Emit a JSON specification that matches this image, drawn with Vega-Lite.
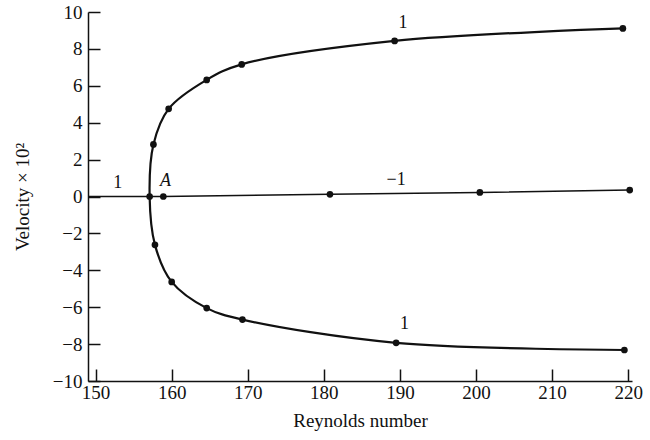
{
  "$schema": "https://vega.github.io/schema/vega-lite/v6.json",
  "autosize": "none",
  "width": 544,
  "height": 369,
  "padding": {"left": 88, "top": 12, "right": 18, "bottom": 59},
  "background": "white",
  "config": {
    "view": {"stroke": null},
    "font": "Liberation Serif",
    "axis": {
      "grid": false,
      "domainColor": "#111",
      "domainWidth": 1.5,
      "tickColor": "#111",
      "tickWidth": 1.5,
      "tickSize": -12,
      "labelFont": "Liberation Serif",
      "labelFontSize": 19,
      "labelColor": "#111",
      "titleFont": "Liberation Serif",
      "titleFontSize": 19,
      "titleFontWeight": "normal",
      "titleColor": "#111"
    }
  },
  "datasets": {
    "curve": [
      {"re": 219.5, "v": -8.32, "ord": 1},
      {"re": 189.5, "v": -7.93, "ord": 2},
      {"re": 169.3, "v": -6.67, "ord": 3},
      {"re": 164.6, "v": -6.05, "ord": 4},
      {"re": 160.0, "v": -4.63, "ord": 5},
      {"re": 157.8, "v": -2.62, "ord": 6},
      {"re": 157.1, "v": 0.0, "ord": 7},
      {"re": 157.6, "v": 2.82, "ord": 8},
      {"re": 159.6, "v": 4.75, "ord": 9},
      {"re": 164.6, "v": 6.32, "ord": 10},
      {"re": 169.2, "v": 7.16, "ord": 11},
      {"re": 189.3, "v": 8.43, "ord": 12},
      {"re": 219.3, "v": 9.11, "ord": 13}
    ],
    "zero": [
      {"re": 149.0, "v": 0.0, "dot": false},
      {"re": 157.1, "v": 0.0, "dot": false},
      {"re": 158.9, "v": 0.0, "dot": true},
      {"re": 180.8, "v": 0.12, "dot": true},
      {"re": 200.5, "v": 0.22, "dot": true},
      {"re": 220.2, "v": 0.35, "dot": true}
    ],
    "labels": [
      {"re": 152.9, "v": 0.75, "t": "1"},
      {"re": 190.4, "v": 9.4, "t": "1"},
      {"re": 190.6, "v": -6.9, "t": "1"},
      {"re": 189.5, "v": 0.9, "t": "−1"}
    ]
  },
  "encoding": {
    "x": {
      "field": "re", "type": "quantitative",
      "scale": {"domain": [149, 220.5], "nice": false, "zero": false},
      "axis": {
        "values": [150, 160, 170, 180, 190, 200, 210, 220],
        "format": "d",
        "labelOverlap": false,
        "labelPadding": 14,
        "title": "Reynolds number",
        "titlePadding": 9
      }
    },
    "y": {
      "field": "v", "type": "quantitative",
      "scale": {"domain": [-10, 10], "nice": false},
      "axis": {
        "values": [-10, -8, -6, -4, -2, 0, 2, 4, 6, 8, 10],
        "format": "d",
        "labelOverlap": false,
        "labelSeparation": 0,
        "labelPadding": 18,
        "title": "Velocity × 10²",
        "titlePadding": 20
      }
    }
  },
  "layer": [
    {
      "data": {"name": "zero"},
      "mark": {"type": "line", "color": "#111", "strokeWidth": 1.5}
    },
    {
      "data": {"name": "zero"},
      "transform": [{"filter": "datum.dot"}],
      "mark": {"type": "circle", "color": "#111", "opacity": 1, "size": 45}
    },
    {
      "data": {"name": "curve"},
      "mark": {"type": "line", "color": "#111", "strokeWidth": 2.2, "interpolate": "catmull-rom"},
      "encoding": {
        "order": {"field": "ord", "type": "quantitative"}
      }
    },
    {
      "data": {"name": "curve"},
      "mark": {"type": "circle", "color": "#111", "opacity": 1, "size": 45}
    },
    {
      "data": {"name": "labels"},
      "mark": {"type": "text", "font": "Liberation Serif", "fontSize": 18, "color": "#111"},
      "encoding": {
        "text": {"field": "t"}
      }
    },
    {
      "data": {"values": [{"re": 159.2, "v": 0.85, "t": "A"}]},
      "mark": {"type": "text", "font": "Liberation Serif", "fontSize": 18, "fontStyle": "italic", "color": "#111"},
      "encoding": {
        "text": {"field": "t"}
      }
    }
  ]
}
